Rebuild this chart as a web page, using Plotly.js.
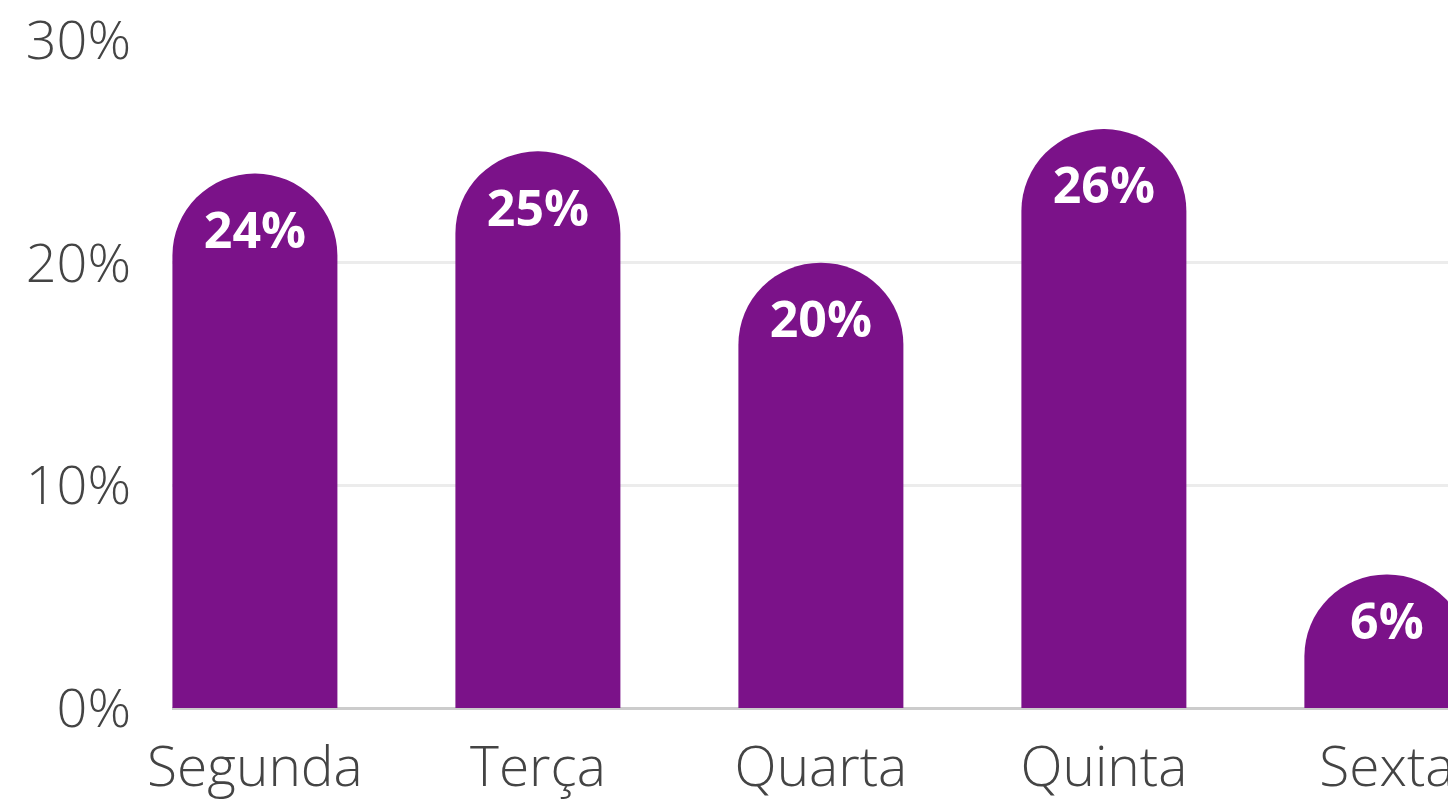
<!DOCTYPE html>
<html>
<head>
<meta charset="utf-8">
<script src="https://cdn.plot.ly/plotly-3.0.1.min.js"></script>
<style>html,body{margin:0;padding:0;background:#fff;}#chart{width:1448px;height:804px;}</style>
</head>
<body>
<div id="chart"></div>
<script>
const categories = ["Segunda", "Terça", "Quarta", "Quinta", "Sexta"];
const values = [24, 25, 20, 26, 6];
const labels = ["24%", "25%", "20%", "26%", "6%"];
const yTickVals = [0, 10, 20, 30];
const yTickText = ["0%", "10%", "20%", "30%"];

const trace = {
  type: "bar",
  x: categories,
  y: values,
  text: labels,
  textposition: "inside",
  insidetextanchor: "end",
  textangle: 0,
  textfont: {family: "Open Sans", size: 50, color: "#ffffff", weight: 700},
  marker: {color: "#7b1289", cornerradius: "50%"},
  hoverinfo: "none"
};

const layout = {
  width: 1448, height: 804,
  margin: {l: 172, r: 0, t: 40, b: 96},
  paper_bgcolor: "#fff", plot_bgcolor: "#fff",
  showlegend: false,
  bargap: 0.417,
  font: {family: "Open Sans", color: "#4a4a4a"},
  xaxis: {
    type: "category",
    range: [-0.293, 4.216],
    showgrid: false, showline: false, zeroline: false,
    ticks: "",
    tickfont: {family: "Open Sans", size: 55, color: "#444444", weight: 300},
    ticklabelstandoff: 22
  },
  yaxis: {
    range: [0, 30],
    tickvals: yTickVals, ticktext: yTickText,
    showgrid: true, gridcolor: "#ececec", gridwidth: 3,
    zeroline: true, zerolinecolor: "#cccccc", zerolinewidth: 3,
    showline: false, ticks: "",
    tickfont: {family: "Open Sans", size: 54, color: "#444444", weight: 300},
    ticklabelstandoff: 40
  }
};

Plotly.newPlot("chart", [trace], layout, {displayModeBar: false, staticPlot: true});
</script>
</body>
</html>
